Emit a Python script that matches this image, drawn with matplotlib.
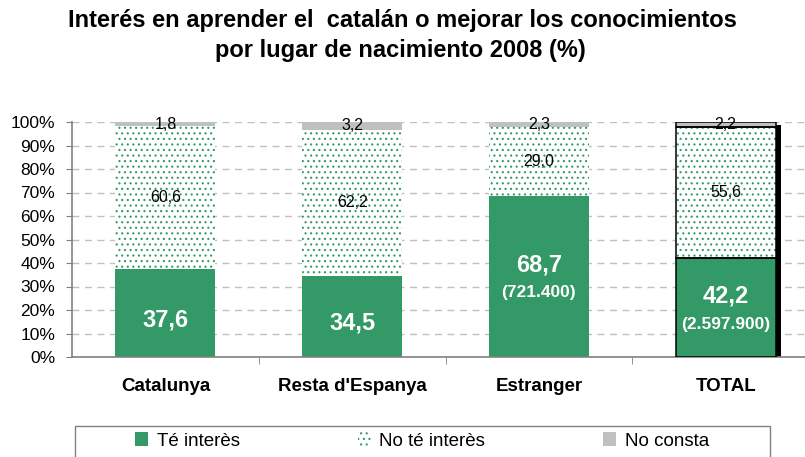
import matplotlib.pyplot as plt
from matplotlib.patches import Patch, Rectangle

plt.rcParams['font.family'] = ['Liberation Sans', 'DejaVu Sans']
plt.rcParams['hatch.linewidth'] = 0.8

categories = ["Catalunya", "Resta d'Espanya", "Estranger", "TOTAL"]
te_interes = [37.6, 34.5, 68.7, 42.2]
no_te_interes = [60.6, 62.2, 29.0, 55.6]
no_consta = [1.8, 3.2, 2.3, 2.2]
persones = [None, None, "(721.400)", "(2.597.900)"]
yticks = [0, 10, 20, 30, 40, 50, 60, 70, 80, 90, 100]

green = '#339966'
grey = '#c0c0c0'

def fmt(v):
    return f"{v:.1f}".replace('.', ',')

fig = plt.figure(figsize=(8.05, 4.57), dpi=100)
ax = fig.add_axes([72 / 805, 1 - 357 / 457, (819 - 72) / 805, 235 / 457])

x = list(range(len(categories)))
w = 0.536
bot2 = te_interes
bot3 = [a + b for a, b in zip(te_interes, no_te_interes)]

# shadow behind TOTAL
ax.bar(3 + 0.027, 100 - 1.3, w, color='black', zorder=1)

ax.bar(x, te_interes, w, color=green, linewidth=0, zorder=2)
ax.bar(x, no_te_interes, w, bottom=bot2, facecolor='white', edgecolor=green,
       hatch='...', linewidth=0, zorder=2)
ax.bar(x, no_consta, w, bottom=bot3, color=grey, linewidth=0, zorder=2)

# black outline on TOTAL segments
for b, h in [(0, te_interes[3]), (bot2[3], no_te_interes[3]), (bot3[3], no_consta[3])]:
    ax.bar(3, h, w, bottom=b, fill=False, edgecolor='black', linewidth=1.1, zorder=3)

for i in x:
    mid1 = te_interes[i] / 2
    if persones[i] is None:
        ax.annotate(fmt(te_interes[i]), (i, mid1), xytext=(0, -5), textcoords='offset points',
                    ha='center', va='center', color='white', fontsize=17, fontweight='bold', zorder=4)
    else:
        ax.annotate(fmt(te_interes[i]), (i, mid1), xytext=(0, 8), textcoords='offset points',
                    ha='center', va='center', color='white', fontsize=17, fontweight='bold', zorder=4)
        ax.annotate(persones[i], (i, mid1), xytext=(0, -12), textcoords='offset points',
                    ha='center', va='center', color='white', fontsize=12.5, fontweight='bold', zorder=4)
    ax.text(i, bot2[i] + no_te_interes[i] / 2, fmt(no_te_interes[i]), ha='center', va='center',
            fontsize=11.5, zorder=4)
    ax.text(i, bot3[i] + no_consta[i] / 2, fmt(no_consta[i]), ha='center', va='center',
            fontsize=11.5, zorder=4)

ax.set_xlim(-0.5, 3.5)
ax.set_ylim(0, 100)
ax.set_yticks(yticks)
ax.set_yticklabels([f"{t}%" for t in yticks], fontsize=12.5)
ax.set_xticks(x)
ax.set_xticklabels(categories, fontsize=13.5, fontweight='bold')
ax.set_xticks([0.5, 1.5, 2.5], minor=True)
ax.tick_params(axis='x', which='major', length=0, pad=15)
ax.tick_params(axis='x', which='minor', length=5, color='#808080', direction='out')
ax.tick_params(axis='y', length=4, color='#808080', pad=8)
ax.yaxis.grid(True, color=grey, linestyle=(0, (5, 4)), linewidth=1)
ax.set_axisbelow(True)
for s in ['top', 'right']:
    ax.spines[s].set_visible(False)
for s in ['left', 'bottom']:
    ax.spines[s].set_color('#808080')
    ax.spines[s].set_linewidth(1.2)

fig.text(402 / 805, 1 - 21 / 457, "Interés en aprender el  catalán o mejorar los conocimientos",
         ha='center', va='center', fontsize=17, fontweight='bold')
fig.text(400 / 805, 1 - 51 / 457, "por lugar de nacimiento 2008 (%)",
         ha='center', va='center', fontsize=17, fontweight='bold')

# legend
fig.patches.append(Rectangle((75 / 805, -0.05), 695 / 805, 0.05 + 31 / 457,
                             transform=fig.transFigure, facecolor='white',
                             edgecolor='#808080', linewidth=1))
handles = [Patch(facecolor=green, linewidth=0),
           Patch(facecolor='white', edgecolor=green, hatch='...', linewidth=0),
           Patch(facecolor=grey, linewidth=0)]
fig.legend(handles, ["Té interès", "No té interès", "No consta"], ncol=3,
           loc='center left', bbox_to_anchor=(135 / 805, 1 - 441 / 457),
           frameon=False, fontsize=13.5, handlelength=0.7, handleheight=0.7,
           handletextpad=0.45, columnspacing=6.3, borderpad=0, borderaxespad=0)

fig.savefig('out.png', dpi=100)
